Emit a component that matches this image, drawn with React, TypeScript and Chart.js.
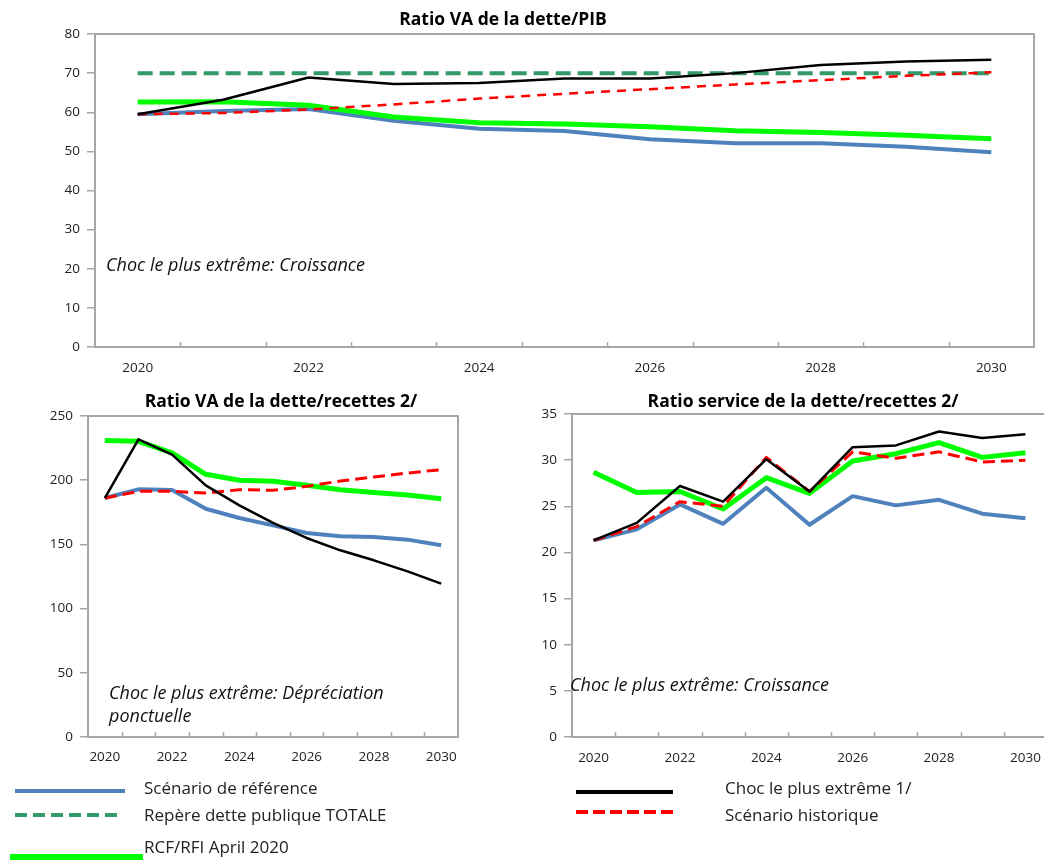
import React, { useEffect, useRef } from 'react';
import { Chart, registerables } from 'chart.js';

Chart.register(...registerables);

// ---------- DATA ----------
const years = ['2020', '2021', '2022', '2023', '2024', '2025', '2026', '2027', '2028', '2029', '2030'];

// Ratio VA de la dette/PIB
const pibReference = [59.5, 60.3, 60.8, 57.8, 55.8, 55.2, 53.1, 52.1, 52.1, 51.2, 49.8];
const pibRepere = [70, 70, 70, 70, 70, 70, 70, 70, 70, 70, 70];
const pibRcf = [62.6, 62.7, 61.8, 58.8, 57.3, 57.0, 56.3, 55.3, 54.8, 54.1, 53.2];
const pibChoc = [59.5, 63.2, 68.9, 67.2, 67.5, 68.6, 68.6, 70.0, 72.1, 73.0, 73.4];
const pibHistorique = [59.5, 59.8, 60.7, 62.0, 63.5, 64.7, 65.9, 67.1, 68.2, 69.3, 70.2];

// Ratio VA de la dette/recettes 2/
const vaRecReference = [186.1, 192.9, 192.4, 177.8, 170.6, 164.8, 158.9, 156.3, 155.8, 153.7, 149.3];
const vaRecRcf = [231.0, 230.3, 221.2, 204.6, 199.9, 199.1, 196.0, 192.6, 190.5, 188.5, 185.6];
const vaRecChoc = [186.1, 231.8, 219.9, 196.0, 180.4, 166.7, 155.0, 145.4, 137.6, 129.0, 119.4];
const vaRecHistorique = [186.1, 191.3, 191.3, 190.0, 192.6, 192.1, 195.2, 199.4, 202.5, 205.6, 208.2];

// Ratio service de la dette/recettes 2/
const svcReference = [21.3, 22.5, 25.2, 23.1, 27.0, 23.0, 26.1, 25.1, 25.7, 24.2, 23.7];
const svcRcf = [28.7, 26.5, 26.6, 24.7, 28.1, 26.4, 29.9, 30.7, 31.9, 30.3, 30.8];
const svcChoc = [21.3, 23.2, 27.2, 25.5, 30.1, 26.6, 31.4, 31.6, 33.1, 32.4, 32.8];
const svcHistorique = [21.3, 22.8, 25.5, 25.0, 30.3, 26.6, 30.9, 30.2, 30.9, 29.8, 30.0];

const titles = ['Ratio VA de la dette/PIB', 'Ratio VA de la dette/recettes 2/', 'Ratio service de la dette/recettes 2/'];
const notes = [
  ['Choc le plus extrême: Croissance'],
  ['Choc le plus extrême: Dépréciation', 'ponctuelle'],
  ['Choc le plus extrême: Croissance'],
];
const legendLabels = ['Scénario de référence', 'Repère dette publique TOTALE', 'RCF/RFI April 2020', 'Choc le plus extrême 1/', 'Scénario historique'];

// ---------- STYLES ----------
const FONT = "'Open Sans', 'Noto Sans', sans-serif";
const C_REF = '#4f81bd';
const C_REP = '#339966';
const C_RCF = '#00ff00';
const C_CHOC = '#000000';
const C_HIST = '#ff0000';
const FRAME = '#a6a6a6';

type Note = { text: string; x: number; y: number };

const framePlugin = {
  id: 'frame',
  beforeDatasetsDraw(chart: any, _args: any, opts: any) {
    const { ctx, chartArea: a } = chart;
    const xs = chart.scales.x;
    ctx.save();
    ctx.strokeStyle = opts.color;
    ctx.lineWidth = opts.width;
    ctx.strokeRect(a.left, a.top, a.right - a.left, a.bottom - a.top);
    ctx.lineWidth = 1.5;
    const n = xs.ticks.length;
    for (let i = 1; i < n; i++) {
      const x = Math.round((xs.getPixelForTick(i - 1) + xs.getPixelForTick(i)) / 2) + 0.5;
      ctx.beginPath();
      ctx.moveTo(x, a.bottom);
      ctx.lineTo(x, a.bottom - opts.tick);
      ctx.stroke();
    }
    ctx.restore();
  },
};

const textPlugin = {
  id: 'texts',
  afterDraw(chart: any, _args: any, opts: any) {
    const { ctx } = chart;
    ctx.save();
    ctx.fillStyle = '#000';
    ctx.textBaseline = 'middle';
    ctx.textAlign = 'center';
    ctx.font = `bold ${opts.titleSize}px ${FONT}`;
    ctx.fillText(opts.title.text, opts.title.x, opts.title.y);
    ctx.textAlign = 'left';
    ctx.fillStyle = '#111';
    ctx.font = `italic ${opts.noteSize}px ${FONT}`;
    (opts.notes as Note[]).forEach((n) => ctx.fillText(n.text, n.x, n.y));
    ctx.restore();
  },
};

function ds(label: string, data: number[], color: string, width: number, order: number, dash?: number[]) {
  return {
    label,
    data,
    borderColor: color,
    backgroundColor: color,
    borderWidth: width,
    borderDash: dash || [],
    borderCapStyle: 'butt',
    borderJoinStyle: 'round',
    pointRadius: 0,
    pointHoverRadius: 0,
    tension: 0,
    fill: false,
    order,
  };
}

type PanelProps = {
  left: number;
  top: number;
  width: number;
  height: number;
  pad: { left: number; top: number; right: number; bottom: number };
  yAxisWidth: number;
  xAxisHeight: number;
  xPad: number;
  yMax: number;
  yStep: number;
  title: Note;
  titleSize: number;
  notes: Note[];
  datasets: any[];
};

function Panel(p: PanelProps) {
  const ref = useRef<HTMLCanvasElement>(null);
  useEffect(() => {
    if (!ref.current) return;
    const chart = new Chart(ref.current, {
      type: 'line',
      data: { labels: years, datasets: p.datasets },
      plugins: [framePlugin, textPlugin],
      options: {
        animation: false,
        responsive: false,
        devicePixelRatio: 1,
        events: [],
        layout: { padding: p.pad },
        scales: {
          x: {
            type: 'category',
            offset: true,
            grid: { display: false },
            border: { display: false },
            ticks: {
              autoSkip: false,
              maxRotation: 0,
              padding: p.xPad,
              color: '#222',
              font: { family: FONT, size: 13.5 },
              callback: (_v: any, i: number) => (i % 2 === 0 ? years[i] : ''),
            },
            afterFit: (s: any) => {
              s.height = p.xAxisHeight;
            },
          },
          y: {
            min: 0,
            max: p.yMax,
            grid: { display: true, drawOnChartArea: false, drawTicks: true, tickLength: 8, color: FRAME, lineWidth: 1.5 },
            border: { display: false },
            ticks: {
              stepSize: p.yStep,
              padding: 7,
              color: '#222',
              font: { family: FONT, size: 13.5 },
            },
            afterFit: (s: any) => {
              s.width = p.yAxisWidth;
            },
          },
        },
        plugins: {
          legend: { display: false },
          tooltip: { enabled: false },
          title: { display: false },
          frame: { color: FRAME, width: 2, tick: 5 },
          texts: { title: p.title, notes: p.notes, titleSize: p.titleSize, noteSize: 18 },
        } as any,
      } as any,
    });
    return () => chart.destroy();
  }, []);
  return (
    <canvas
      ref={ref}
      width={p.width}
      height={p.height}
      style={{ position: 'absolute', left: p.left, top: p.top, width: p.width, height: p.height }}
    />
  );
}

type LegendItem = { label: string; color: string; width: number; dash?: string; x1: number; x2: number; y: number; tx: number; ty: number };

export default function App() {
  useEffect(() => {
    document.body.style.margin = '0';
  }, []);

  const legend: LegendItem[] = [
    { label: legendLabels[0], color: C_REF, width: 4, x1: 15, x2: 125, y: 791, tx: 144, ty: 788 },
    { label: legendLabels[1], color: C_REP, width: 4, dash: '12 6', x1: 15, x2: 121, y: 815, tx: 144, ty: 815 },
    { label: legendLabels[2], color: C_RCF, width: 6, x1: 10, x2: 143, y: 857, tx: 144, ty: 847 },
    { label: legendLabels[3], color: C_CHOC, width: 4, x1: 576, x2: 673, y: 792, tx: 725, ty: 788 },
    { label: legendLabels[4], color: C_HIST, width: 4, dash: '12 5', x1: 576, x2: 675, y: 812, tx: 725, ty: 815 },
  ];

  return (
    <div style={{ position: 'relative', width: 1044, height: 861, background: '#fff', overflow: 'hidden', fontFamily: FONT }}>
      <Panel
        left={0}
        top={0}
        width={1044}
        height={385}
        pad={{ left: 0, top: 34, right: 10, bottom: 0 }}
        yAxisWidth={95}
        xAxisHeight={38}
        xPad={5}
        yMax={80}
        yStep={10}
        title={{ text: titles[0], x: 503, y: 20 }}
        titleSize={17.5}
        notes={[{ text: notes[0][0], x: 106, y: 266 }]}
        datasets={[
          ds('Choc le plus extrême 1/', pibChoc, C_CHOC, 2.5, 1),
          ds('Scénario historique', pibHistorique, C_HIST, 2.5, 2, [9, 7]),
          ds('RCF/RFI April 2020', pibRcf, C_RCF, 5, 3),
          ds('Repère dette publique TOTALE', pibRepere, C_REP, 4, 4, [15, 7]),
          ds('Scénario de référence', pibReference, C_REF, 4, 5),
        ]}
      />
      <Panel
        left={0}
        top={380}
        width={520}
        height={395}
        pad={{ left: 0, top: 36, right: 62, bottom: 0 }}
        yAxisWidth={88}
        xAxisHeight={38}
        xPad={4}
        yMax={250}
        yStep={50}
        title={{ text: titles[1], x: 281, y: 22 }}
        titleSize={17.5}
        notes={[
          { text: notes[1][0], x: 109, y: 314 },
          { text: notes[1][1], x: 109, y: 337 },
        ]}
        datasets={[
          ds('Choc le plus extrême 1/', vaRecChoc, C_CHOC, 2.5, 1),
          ds('Scénario historique', vaRecHistorique, C_HIST, 3, 2, [12, 6]),
          ds('RCF/RFI April 2020', vaRecRcf, C_RCF, 5, 3),
          ds('Scénario de référence', vaRecReference, C_REF, 4, 5),
        ]}
      />
      <Panel
        left={520}
        top={380}
        width={532}
        height={395}
        pad={{ left: 0, top: 34, right: 5, bottom: 0 }}
        yAxisWidth={52}
        xAxisHeight={38}
        xPad={5}
        yMax={35}
        yStep={5}
        title={{ text: titles[2], x: 283, y: 22 }}
        titleSize={17.5}
        notes={[{ text: notes[2][0], x: 50, y: 306 }]}
        datasets={[
          ds('Choc le plus extrême 1/', svcChoc, C_CHOC, 2.5, 1),
          ds('Scénario historique', svcHistorique, C_HIST, 3, 2, [12, 6]),
          ds('RCF/RFI April 2020', svcRcf, C_RCF, 5, 3),
          ds('Scénario de référence', svcReference, C_REF, 4, 5),
        ]}
      />
      <svg width={1044} height={861} style={{ position: 'absolute', left: 0, top: 0, pointerEvents: 'none' }}>
        {legend.map((l, i) => (
          <line key={i} x1={l.x1} x2={l.x2} y1={l.y} y2={l.y} stroke={l.color} strokeWidth={l.width} strokeDasharray={l.dash} />
        ))}
      </svg>
      {legend.map((l, i) => (
        <div
          key={i}
          style={{ position: 'absolute', left: l.tx, top: l.ty - 11, height: 22, lineHeight: '22px', fontSize: 17, color: '#222', whiteSpace: 'nowrap' }}
        >
          {l.label}
        </div>
      ))}
    </div>
  );
}
